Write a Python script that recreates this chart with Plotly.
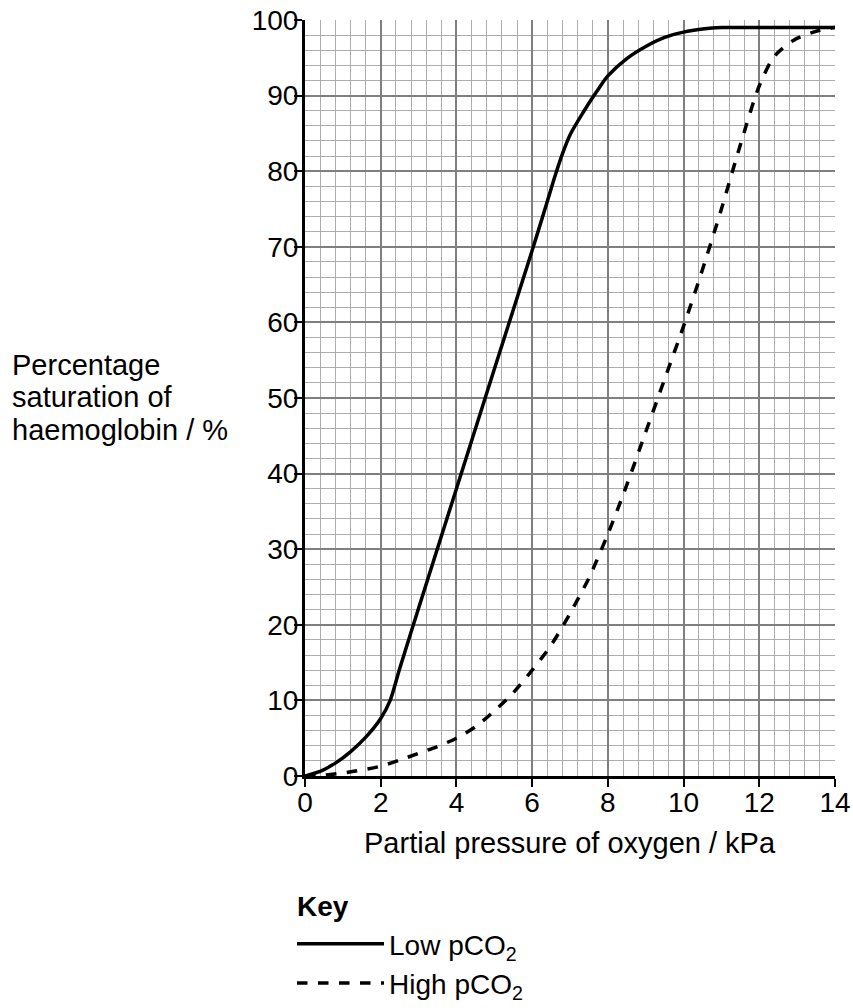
import plotly.graph_objects as go

# Low pCO2 curve (solid)
low_x = [0, 0.4, 0.8, 1.2, 1.6, 2.0, 2.25, 2.5, 3.0, 4.0, 5.0, 6.0, 6.4, 6.6, 6.8, 7.0,
         7.35, 7.7, 8.0, 8.5, 9.0, 9.5, 10.0, 10.5, 11.0, 12.0, 13.0, 14.0]
low_y = [0, 0.6, 1.7, 3.2, 5.1, 7.6, 10.0, 14.2, 22.2, 38.0, 53.8, 69.5, 76.0, 79.3, 82.3, 84.8,
         87.8, 90.5, 92.6, 94.9, 96.5, 97.7, 98.4, 98.8, 99.0, 99.0, 99.0, 99.0]

# High pCO2 curve (dashed)
high_x = [0, 0.5, 1.0, 1.5, 2.0, 2.5, 3.0, 3.5, 4.0, 4.5, 5.0, 5.5, 6.0, 6.5, 7.0, 7.5, 8.0,
          8.5, 9.0, 9.5, 10.0, 10.5, 11.0, 11.5, 12.0, 12.4, 12.9, 13.5, 14.0]
high_y = [0, 0.1, 0.4, 0.8, 1.3, 2.1, 3.0, 3.9, 5.0, 6.5, 8.6, 11.0, 14.0, 17.3, 21.5, 26.2, 32.0,
          38.5, 45.5, 52.5, 59.5, 67.0, 75.0, 83.5, 91.3, 95.2, 97.3, 98.5, 99.0]

x_ticks = [0, 2, 4, 6, 8, 10, 12, 14]
y_ticks = [0, 10, 20, 30, 40, 50, 60, 70, 80, 90, 100]

y_title_lines = ["Percentage", "saturation of", "haemoglobin / %"]
x_title = "Partial pressure of oxygen / kPa"
key_title = "<b>Key</b>"

FONT = "Liberation Sans, Arial, sans-serif"
FS = 29
TFS = 28

fig = go.Figure()
fig.add_trace(go.Scatter(x=low_x, y=low_y, mode="lines", name="Low pCO<sub>2</sub>",
                         line=dict(color="black", width=3.5, shape="spline", smoothing=0.8)))
fig.add_trace(go.Scatter(x=high_x, y=high_y, mode="lines", name="High pCO<sub>2</sub>",
                         line=dict(color="black", width=3.5, dash="dash", shape="spline", smoothing=0.8)))

fig.update_xaxes(range=[0, 14], tickvals=x_ticks, ticks="outside", ticklen=8, tickwidth=2,
                 tickcolor="black", showline=True, linecolor="black", linewidth=3,
                 zeroline=False, showgrid=True, gridcolor="#7f7f7f", gridwidth=2,
                 minor=dict(dtick=0.4, tick0=0, showgrid=True, gridcolor="#adadad", gridwidth=1),
                 tickfont=dict(family=FONT, size=TFS, color="black"),
                 ticklabelstandoff=-9, ticklabeloverflow="allow", automargin=False)
fig.update_yaxes(range=[0, 100], tickvals=y_ticks, ticks="outside", ticklen=8, tickwidth=2,
                 tickcolor="black", showline=True, linecolor="black", linewidth=3,
                 zeroline=False, showgrid=True, gridcolor="#7f7f7f", gridwidth=2,
                 minor=dict(dtick=2, tick0=0, showgrid=True, gridcolor="#adadad", gridwidth=1),
                 tickfont=dict(family=FONT, size=TFS, color="black"),
                 ticklabelstandoff=-10, ticklabeloverflow="allow", automargin=False)

for i, line in enumerate(y_title_lines):
    fig.add_annotation(text=line, xref="paper", yref="paper",
                       x=-0.5566, y=0.5013 + (1 - i) * 32.5 / 756,
                       xanchor="left", yanchor="middle", align="left", showarrow=False,
                       font=dict(family=FONT, size=FS, color="black"))

fig.add_annotation(text=x_title, xref="paper", yref="paper", x=0.5, y=-0.0886,
                   xanchor="center", yanchor="middle", showarrow=False,
                   font=dict(family=FONT, size=FS, color="black"))

fig.add_annotation(text=key_title, xref="paper", yref="paper", x=-0.019, y=-0.172,
                   xanchor="left", yanchor="middle", showarrow=False,
                   font=dict(family=FONT, size=TFS, color="black"))

fig.update_layout(
    width=853, height=1008,
    margin=dict(l=305, r=18, t=21, b=231),
    minreducedheight=756,
    plot_bgcolor="white", paper_bgcolor="white",
    showlegend=True,
    legend=dict(x=-0.0245, y=-0.1885, xanchor="left", yanchor="top",
                font=dict(family=FONT, size=TFS, color="black"), bgcolor="rgba(0,0,0,0)",
                itemwidth=87, tracegroupgap=0),
)

fig.write_html("out.html", config={"displayModeBar": False},
               post_script="document.body.style.margin='0px';document.body.style.overflow='hidden';")
